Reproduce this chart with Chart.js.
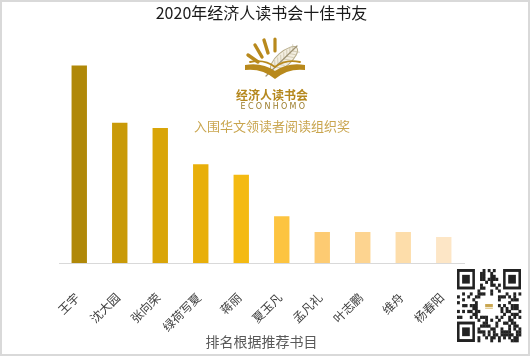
<!DOCTYPE html>
<html><head><meta charset="utf-8">
<script src="https://cdn.jsdelivr.net/npm/chart.js@4"></script>
<style>html,body{margin:0;padding:0;background:#fff}canvas{display:block}</style>
</head><body>
<canvas id="c" width="530" height="356"></canvas>
<script>
const categories = ['王宇','沈大园','张向荣','绿荷写夏','蒋丽','夏玉凡','孟凡礼','叶志鹏','维舟','杨春阳'];
const values = [38, 27, 26, 19, 17, 9, 6, 6, 6, 5];
const chartTitle = '2020年经济人读书会十佳书友';
const xAxisTitle = '排名根据推荐书目';
const logoName = '经济人读书会';
const logoLatin = 'ECONHOMO';
const logoAward = '入围华文领读者阅读组织奖';
const barColors = ['#B08808','#C99A08','#D9A508','#E8AF0A','#F4BA12','#FDC440','#FDCB72','#FDD490','#FDDDAA','#FDE6C6'];

const FONT = '"Noto Sans CJK SC","Noto Sans",sans-serif';

function drawLogo(ctx){
  ctx.save();
  const gold = '#B8891C';
  ctx.strokeStyle = gold; ctx.lineCap = 'round';
  const rays = [[248,55,258,62,3.4],[255,45,262,57,3.4],[264,40,268,53,3.4],[275,39,275,51,3.2]];
  rays.forEach(r=>{ctx.lineWidth=r[4];ctx.beginPath();ctx.moveTo(r[0],r[1]);ctx.lineTo(r[2],r[3]);ctx.stroke();});
  ctx.save();
  ctx.translate(284,59); ctx.rotate(-0.72);
  ctx.beginPath(); ctx.ellipse(0,0,17,7,0,0,Math.PI*2);
  ctx.fillStyle='#F3EEE0'; ctx.fill();
  ctx.strokeStyle='#B7AD8C'; ctx.lineWidth=1; ctx.stroke();
  ctx.strokeStyle='#C9C1A6'; ctx.lineWidth=0.7;
  for(let k=-12;k<=12;k+=4){ctx.beginPath();ctx.moveTo(k,0);ctx.lineTo(k+4,-5);ctx.moveTo(k,0);ctx.lineTo(k+4,5);ctx.stroke();}
  ctx.restore();
  ctx.strokeStyle='#9E9374'; ctx.lineWidth=1.2;
  ctx.beginPath(); ctx.moveTo(266,76); ctx.lineTo(297,46); ctx.stroke();
  ctx.fillStyle = gold;
  ctx.beginPath();
  ctx.moveTo(245,65);
  ctx.quadraticCurveTo(262,62,275,71);
  ctx.quadraticCurveTo(288,62,305,65);
  ctx.lineTo(305,70);
  ctx.quadraticCurveTo(288,68,275,79);
  ctx.quadraticCurveTo(262,68,245,70);
  ctx.closePath(); ctx.fill();
  ctx.strokeStyle = gold; ctx.lineWidth=1.8;
  ctx.beginPath(); ctx.moveTo(250,62); ctx.quadraticCurveTo(265,59,275,67); ctx.quadraticCurveTo(285,59,300,62); ctx.stroke();
  ctx.textAlign='center'; ctx.textBaseline='middle';
  ctx.fillStyle='#B5881E';
  ctx.font='bold 12px '+FONT;
  ctx.fillText(logoName,272,95);
  ctx.fillStyle='#9C7D2C';
  ctx.font='8px "DejaVu Sans",sans-serif';
  ctx.letterSpacing='2.3px';
  ctx.fillText(logoLatin,274,107);
  ctx.letterSpacing='0px';
  ctx.fillStyle='#C9A54E';
  ctx.font='13px '+FONT;
  ctx.fillText(logoAward,272,126);
  ctx.restore();
}

function drawQR(ctx){
  const x0=457,y0=269,w=64,h=73,n=25;
  const mw=w/n, mh=h/n;
  ctx.save();
  ctx.fillStyle='#222';
  const inFinder=(i,j)=>(i<8&&j<8)||(i>=n-8&&j<8)||(i<8&&j>=n-8);
  for(let i=0;i<n;i++)for(let j=0;j<n;j++){
    if(inFinder(i,j)) continue;
    if(i>=9&&i<=15&&j>=9&&j<=15) continue;
    const hsh=((i*73856093)^(j*19349663)^(i*j*83492791))>>>0;
    if(hsh%7<3) ctx.fillRect(x0+i*mw,y0+j*mh,mw+0.3,mh+0.3);
  }
  [[0,0],[n-7,0],[0,n-7]].forEach(([i,j])=>{
    ctx.fillStyle='#222'; ctx.fillRect(x0+i*mw,y0+j*mh,7*mw,7*mh);
    ctx.fillStyle='#fff'; ctx.fillRect(x0+(i+1)*mw,y0+(j+1)*mh,5*mw,5*mh);
    ctx.fillStyle='#222'; ctx.fillRect(x0+(i+2)*mw,y0+(j+2)*mh,3*mw,3*mh);
  });
  ctx.fillStyle='#fff'; ctx.fillRect(x0+9.5*mw,y0+9.5*mh,6*mw,6*mh);
  ctx.fillStyle='#C9A54E'; ctx.fillRect(x0+11*mw,y0+12*mh,3*mw,1*mh);
  ctx.fillStyle='#E2CD96'; ctx.fillRect(x0+11*mw,y0+13.2*mh,3*mw,0.5*mh);
  ctx.restore();
}

const deco = {
  id:'deco',
  beforeDatasetsDraw(chart){ drawLogo(chart.ctx); },
  afterDraw(chart){
    const ctx=chart.ctx;
    drawQR(ctx);
    ctx.save(); ctx.strokeStyle='#D9D9D9'; ctx.lineWidth=2;
    ctx.strokeRect(1,1,528,354); ctx.restore();
  }
};

new Chart(document.getElementById('c'),{
  type:'bar',
  data:{labels:categories,datasets:[{data:values,backgroundColor:barColors,borderWidth:0,barPercentage:0.38,categoryPercentage:1.0}]},
  options:{
    responsive:false, animation:false, devicePixelRatio:1,
    layout:{padding:{left:59,right:66,top:0,bottom:6}},
    plugins:{
      legend:{display:false}, tooltip:{enabled:false},
      title:{display:true,text:chartTitle,color:'#1a1a1a',font:{family:FONT,size:16,weight:'normal'},padding:{top:3,bottom:33}}
    },
    scales:{
      x:{
        grid:{display:false},
        border:{display:true,color:'#D9D9D9',width:1},
        ticks:{color:'#404040',font:{family:FONT,size:12},minRotation:45,maxRotation:45,autoSkip:false,padding:19,labelOffset:-2},
        title:{display:true,text:xAxisTitle,color:'#595959',font:{family:FONT,size:14},padding:{top:-20,bottom:0}}
      },
      y:{display:false,min:0,max:40}
    }
  },
  plugins:[deco]
});
</script>
</body></html>
